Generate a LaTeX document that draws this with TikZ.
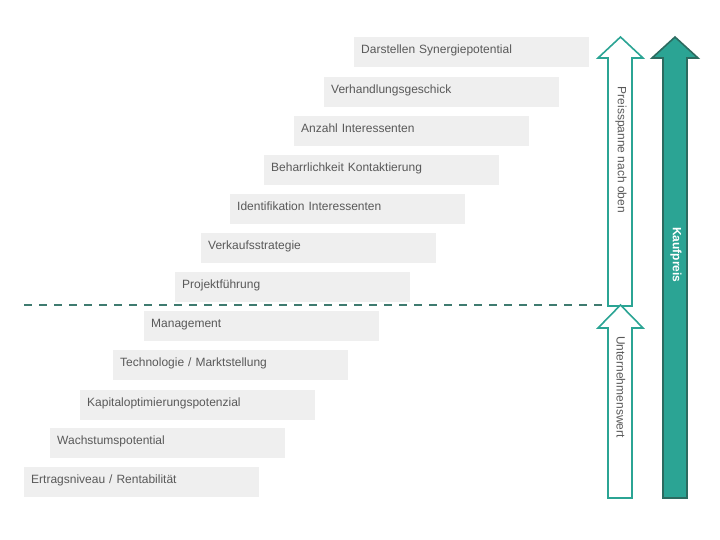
\documentclass[tikz,border=0pt]{standalone}
\usepackage{fontspec}
\setmainfont{Liberation Sans}
\usepackage{tikz}
\usetikzlibrary{positioning,calc}
\definecolor{boxgray}{HTML}{EFEFEF}
\definecolor{textgray}{HTML}{595959}
\definecolor{teal}{HTML}{2BA494}
\definecolor{tealdark}{HTML}{2C6B60}
\definecolor{dashteal}{HTML}{3F7B70}

\begin{document}
\begin{tikzpicture}[x=1pt,y=-1pt,
    every node/.style={font=\fontsize{12}{14}\selectfont},
    factor/.style={anchor=north west,fill=boxgray,text=textgray,minimum width=235pt,minimum height=30pt,
      inner xsep=7pt,text height=8pt,text depth=6pt,align=left,text width=221pt},
    hollow/.style={draw=teal,line width=1.6pt,fill=white,line join=miter},
    solid arrow/.style={draw=tealdark,line width=1.6pt,fill=teal,line join=miter},
    arrowtext/.style={rotate=-90,text=textgray}]
    \useasboundingbox (0,0) rectangle (720,540);

    % Werttreiber (oben: Verkaufsprozess, unten: Unternehmen)
    \node [factor] (synergy) at (354,37) {Darstellen Synergiepotential};
    \node [factor] (negotiation) at (324,77) {Verhandlungsgeschick};
    \node [factor] (bidders) at (294,116) {Anzahl Interessenten};
    \node [factor] (persistence) at (264,155) {Beharrlichkeit Kontaktierung};
    \node [factor] (identification) at (230,194) {Identifikation Interessenten};
    \node [factor] (strategy) at (201,233) {Verkaufsstrategie};
    \node [factor] (project) at (175,272) {Projektführung};
    \node [factor] (management) at (144,311) {Management};
    \node [factor] (technology) at (113,350) {Technologie / Marktstellung};
    \node [factor] (capital) at (80,390) {Kapitaloptimierungspotenzial};
    \node [factor] (growth) at (50,428) {Wachstumspotential};
    \node [factor] (earnings) at (24,467) {Ertragsniveau / Rentabilität};

    % Trennlinie
    \coordinate (split-left) at (24,305);
    \coordinate (split-right) at (606,305);
    \draw [dashteal,line width=1.6pt,dash pattern=on 8pt off 7pt] (split-left) -- (split-right);

    % Preisspanne nach oben
    \draw [hollow] (608,306) -- (608,58) -- (598,58) -- (620.5,37) -- (643,58) -- (632,58) -- (632,306) -- cycle;
    \node [arrowtext] (upside) at (621,150) {Preisspanne nach oben};

    % Unternehmenswert
    \draw [hollow] (608,498) -- (608,328) -- (598,328) -- (620.5,305) -- (643,328) -- (632,328) -- (632,498) -- cycle;
    \node [arrowtext] (value) at (621,387) {Unternehmenswert};

    % Kaufpreis
    \draw [solid arrow] (663,498) -- (663,58) -- (652,58) -- (675,37) -- (698,58) -- (687,58) -- (687,498) -- cycle;
    \node [rotate=-90,text=white,font=\fontsize{12}{14}\selectfont\bfseries] (price) at (676,255) {Kaufpreis};
\end{tikzpicture}
\end{document}
